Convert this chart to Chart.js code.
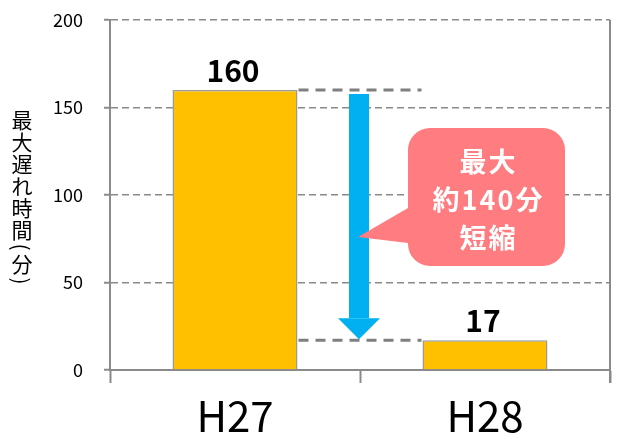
<!DOCTYPE html>
<html>
<head>
<meta charset="utf-8">
<script src="https://cdn.jsdelivr.net/npm/chart.js@4"></script>
<style>
  html, body { margin: 0; padding: 0; background: #fff; }
  #wrap { width: 619px; height: 439px; }
</style>
</head>
<body>
<div id="wrap"><canvas id="mycanvas" width="619" height="439"></canvas></div>
<script>
var years = ['H27', 'H28'];
var delay = [160, 17];
var yTicks = [0, 50, 100, 150, 200];
var yTitle = ['最', '大', '遅', 'れ', '時', '間', '(', '分', ')'];
var calloutLines = ['最大', '約140分', '短縮'];

var FONT = '"Noto Sans CJK JP", "Noto Sans", sans-serif';

// everything drawn on top of the bars: labels, connectors, arrow, callout, y title
var overlay = {
    id: 'overlay',
    afterDatasetsDraw: function (chart) {
        var ctx = chart.ctx;
        var area = chart.chartArea;
        var x = chart.scales.x;
        var y = chart.scales.y;
        var bars = chart.getDatasetMeta(0).data;

        ctx.save();

        // right border
        ctx.strokeStyle = '#8a8a8a';
        ctx.lineWidth = 2;
        ctx.beginPath();
        ctx.moveTo(area.right, area.top);
        ctx.lineTo(area.right, area.bottom + 13);
        ctx.stroke();

        // value labels
        ctx.fillStyle = '#000';
        ctx.font = 'bold 30px ' + FONT;
        ctx.textAlign = 'center';
        ctx.textBaseline = 'alphabetic';
        for (var i = 0; i < bars.length; i++) {
            ctx.fillText(String(delay[i]), bars[i].x - 2, bars[i].y - 8);
        }

        // dashed connectors
        var endX = bars[1].x - bars[1].width / 2 - 1;
        var startX = bars[0].x + bars[0].width / 2 + 1;
        ctx.strokeStyle = '#7f7f7f';
        ctx.lineWidth = 3;
        ctx.setLineDash([10, 7]);
        for (var j = 0; j < delay.length; j++) {
            var py = y.getPixelForValue(delay[j]);
            ctx.beginPath();
            ctx.moveTo(startX, py);
            ctx.lineTo(endX, py);
            ctx.stroke();
        }
        ctx.setLineDash([]);

        // arrow
        var ax = x.getPixelForValue(0.5) - 1;
        var topY = y.getPixelForValue(delay[0]) + 4;
        var tipY = y.getPixelForValue(delay[1]) - 1;
        var headY = tipY - 21;
        ctx.fillStyle = '#00b0f0';
        ctx.fillRect(ax - 10, topY, 20, headY - topY);
        ctx.beginPath();
        ctx.moveTo(ax - 21, headY);
        ctx.lineTo(ax + 21, headY);
        ctx.lineTo(ax, tipY);
        ctx.closePath();
        ctx.fill();

        // callout
        var bx = 408, by = 128, bw = 157, bh = 138, r = 22;
        ctx.fillStyle = '#ff7c80';
        ctx.beginPath();
        ctx.moveTo(bx + r, by);
        ctx.lineTo(bx + bw - r, by);
        ctx.arcTo(bx + bw, by, bx + bw, by + r, r);
        ctx.lineTo(bx + bw, by + bh - r);
        ctx.arcTo(bx + bw, by + bh, bx + bw - r, by + bh, r);
        ctx.lineTo(bx + r, by + bh);
        ctx.arcTo(bx, by + bh, bx, by + bh - r, r);
        ctx.lineTo(bx, 243);
        ctx.lineTo(ax - 1, 237);
        ctx.lineTo(bx, 208);
        ctx.lineTo(bx, by + r);
        ctx.arcTo(bx, by, bx + r, by, r);
        ctx.closePath();
        ctx.fill();

        ctx.fillStyle = '#fff';
        ctx.font = 'bold 27px ' + FONT;
        ctx.textAlign = 'center';
        ctx.textBaseline = 'middle';
        ctx.letterSpacing = '2px';
        var cx = bx + bw / 2 + 2;
        for (var k = 0; k < calloutLines.length; k++) {
            ctx.fillText(calloutLines[k], cx, 162 + k * 38);
        }
        ctx.letterSpacing = '0px';

        // vertical y title
        ctx.fillStyle = '#000';
        ctx.font = '21px ' + FONT;
        ctx.textAlign = 'center';
        ctx.textBaseline = 'middle';
        var ty = 109;
        for (var m = 0; m < yTitle.length; m++) {
            var ch = yTitle[m];
            if (ch === '(' || ch === ')') {
                var step = 12;
                ctx.save();
                ctx.translate(22, ty + step / 2);
                ctx.rotate(Math.PI / 2);
                ctx.fillText(ch, 0, 1);
                ctx.restore();
                ty += step;
            } else {
                ctx.fillText(ch, 22, ty + 11);
                ty += 22;
            }
        }

        ctx.restore();
    }
};

var chartdata = {
    labels: years,
    datasets: [
        {
            label: '最大遅れ時間',
            backgroundColor: '#ffc000',
            borderColor: '#9a9a9a',
            borderWidth: 1.5,
            categoryPercentage: 1.0,
            barPercentage: 0.5,
            data: delay
        }
    ]
};

var ctx = document.getElementById('mycanvas');

var barGraph = new Chart(ctx, {
    type: 'bar',
    data: chartdata,
    plugins: [overlay],
    options: {
        responsive: false,
        animation: false,
        layout: { padding: { top: 20, right: 9, left: 0, bottom: 0 } },
        plugins: {
            legend: { display: false },
            tooltip: { enabled: false }
        },
        scales: {
            x: {
                offset: true,
                afterFit: function (scale) { scale.height = 69; },
                grid: {
                    offset: true,
                    drawOnChartArea: false,
                    tickLength: 13,
                    tickColor: '#8a8a8a',
                    tickWidth: 2
                },
                border: { color: '#8a8a8a', width: 2 },
                ticks: {
                    color: '#000',
                    padding: 8,
                    font: { family: FONT, size: 42 }
                }
            },
            y: {
                min: 0,
                max: 200,
                afterFit: function (scale) {
                    scale.width = 110;
                    scale.paddingTop = 0;
                    scale.paddingBottom = 0;
                },
                afterBuildTicks: function (scale) {
                    scale.ticks = yTicks.map(function (v) { return { value: v }; });
                },
                grid: {
                    color: '#8a8a8a',
                    lineWidth: 1.5,
                    tickLength: 6,
                    tickBorderDash: [],
                    tickColor: '#8a8a8a',
                    tickWidth: 2
                },
                border: { color: '#8a8a8a', width: 2, dash: [7, 4] },
                ticks: {
                    color: '#000',
                    padding: 21,
                    font: { family: FONT, size: 18 }
                }
            }
        }
    }
});
</script>
</body>
</html>
